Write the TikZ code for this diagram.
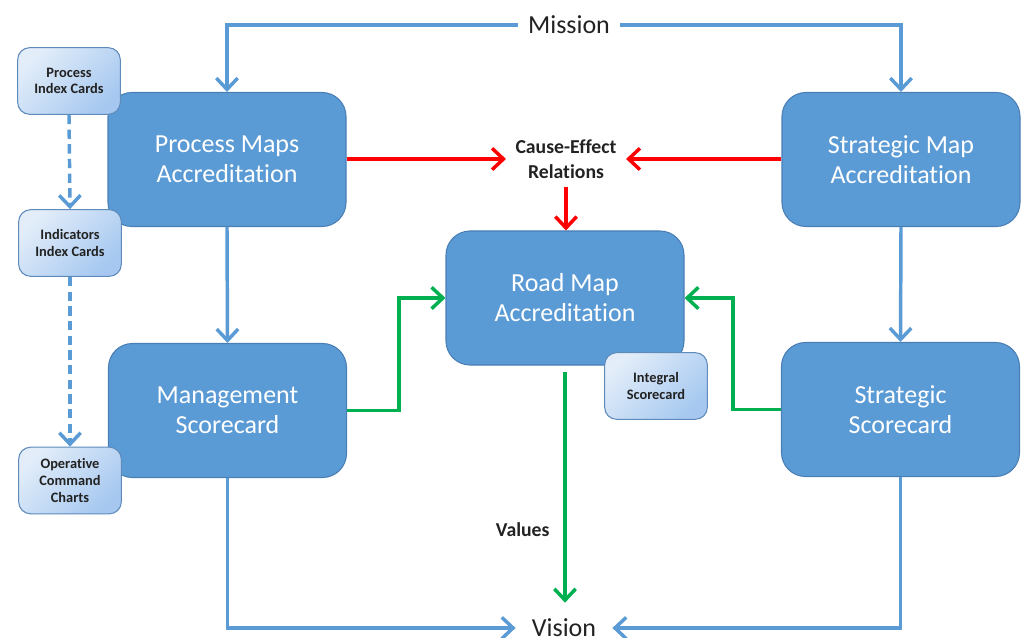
\documentclass[tikz,border=0pt]{standalone}
\usepackage{fontspec}
\setmainfont{Carlito}[Ligatures=NoCommon]
\usepackage{xcolor}
\usetikzlibrary{arrows.meta}
\definecolor{boxblue}{HTML}{5B9BD5}
\definecolor{boxedge}{HTML}{4A7FB5}
\definecolor{cardtop}{HTML}{E2EDF9}
\definecolor{cardbot}{HTML}{A6C8F0}
\definecolor{cardedge}{HTML}{5E8BBA}
\definecolor{linkred}{HTML}{FF0000}
\definecolor{linkgreen}{HTML}{00B050}
\definecolor{txtdark}{HTML}{222222}

\begin{document}
\begin{tikzpicture}[x=0.75pt,y=-0.75pt,
  mainbox/.style={draw=boxedge,line width=0.8pt,fill=boxblue,rounded corners=18pt,
    minimum width=178.5pt,minimum height=100.5pt,inner sep=0pt,align=center,
    text=white,font=\fontsize{19.5}{22.5}\selectfont},
  card/.style={draw=cardedge,line width=0.8pt,top color=cardtop,bottom color=cardbot,
    shading angle=45,rounded corners=9pt,minimum width=77pt,minimum height=50pt,
    inner sep=0pt,align=center,text=txtdark,font=\bfseries\fontsize{10.8}{12.5}\selectfont},
  bigword/.style={text=txtdark,font=\fontsize{19.5}{22.5}\selectfont},
  flow/.style={draw=boxblue,line width=2.6pt,-{Straight Barb[length=8.5pt,width=16pt]}},
  redflow/.style={draw=linkred,line width=2.6pt,-{Straight Barb[length=8.5pt,width=16pt]}},
  greenflow/.style={draw=linkgreen,line width=2.6pt,-{Straight Barb[length=8.5pt,width=16pt]}}]
\useasboundingbox (0,0) rectangle (1022,638);

% main boxes
\node[mainbox] (pmap) at (227,159.5) {Process Maps\\Accreditation};
\node[mainbox] (mscore) at (227.5,410.5) {Management\\Scorecard};
\node[mainbox] (roadmap) at (565,298) {Road Map\\Accreditation};
\node[mainbox] (smap) at (901,159.5) {Strategic Map\\Accreditation};
\node[mainbox] (sscore) at (900.5,409.5) {Strategic\\Scorecard};

% small cards
\node[card] (pcards) at (69,81) {Process\\Index Cards};
\node[card] (icards) at (70,243) {Indicators\\Index Cards};
\node[card] (occharts) at (70,480.5) {Operative\\Command\\Charts};
\node[card] (integral) at (656,386) {Integral\\Scorecard};

% free words
\node[bigword,inner xsep=7pt] (mission) at (569,25) {Mission};
\node[bigword,inner xsep=12pt,inner ysep=12pt] (vision) at (564,628) {Vision};
\node[text=txtdark,font=\bfseries\fontsize{14.8}{18.75}\selectfont,align=center,
  inner xsep=7pt,inner ysep=6pt] (cause) at (566,159) {Cause-Effect\\Relations};

% blue flow
\draw[flow] (mission.west) -| (pmap.north);
\draw[flow] (mission.east) -| (smap.north);
\draw[flow] (pmap.south) -- (mscore.north);
\draw[flow] (smap.south) -- (sscore.north);
\draw[flow] (mscore.south) |- (vision.west);
\draw[flow] (sscore.south) |- (vision.east);
\draw[flow,dashed,dash pattern=on 7pt off 4pt] (pcards.south) -- (icards.north);
\draw[flow,dashed,dash pattern=on 7pt off 4pt] (icards.south) -- (occharts.north);

% cause-effect
\draw[redflow] (pmap.east |- cause.west) -- (cause.west);
\draw[redflow] (smap.west |- cause.west) -- (cause.east);
\draw[redflow] (cause.south) -- (cause.south |- roadmap.north);

% values
\draw[greenflow] (mscore.east) -- ++(52,0) |- (roadmap.west);
\draw[greenflow] (sscore.west) -- ++(-48,0) |- (roadmap.east);
\draw[greenflow,shorten <=5pt] (roadmap.south) -- (roadmap.south |- vision.north)
  node[pos=0.69,left=7pt,text=txtdark,font=\bfseries\fontsize{14.8}{18}\selectfont] (values) {Values};
\end{tikzpicture}
\end{document}
